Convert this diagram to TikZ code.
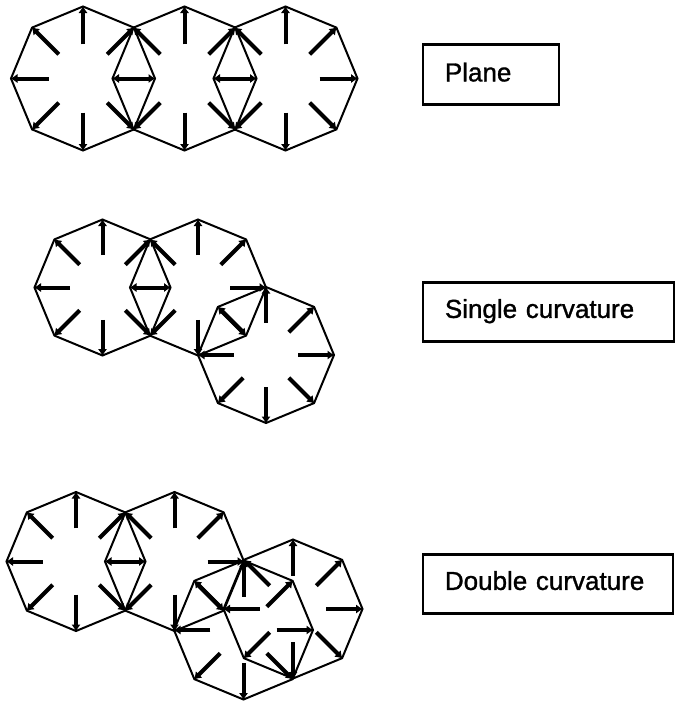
\documentclass[tikz,border=0pt]{standalone}
\usepackage{fontspec}
\setmainfont[FakeBold=1.2]{Liberation Sans}
\usetikzlibrary{arrows.meta}
\tikzset{
  octedge/.style={line width=2pt,line join=miter},
  octarrow/.style={line width=4pt,-{Latex[length=7pt,width=9.5pt]},shorten >=-0.5pt},
  labelbox/.style={draw,line width=2.8pt,anchor=north west,inner ysep=0pt,inner xsep=22pt,
    align=left,font=\fontsize{26}{30}\selectfont,text height=12pt,text depth=0pt}
}
% name, centre x, centre y, radius
\newcommand{\octagonfig}[4]{%
  \coordinate (#1c) at (#2,#3);
  \begin{scope}[shift={(#1c)}]
    \foreach \k in {1,...,8}{
      \coordinate (#1v\k) at ({\k*45}:#4);
      \coordinate (#1i\k) at ({\k*45}:{0.475*#4});
    }
  \end{scope}
  \draw[octedge] (#1v1)--(#1v2)--(#1v3)--(#1v4)--(#1v5)--(#1v6)--(#1v7)--(#1v8)--cycle;
  \foreach \k in {1,...,8}{\draw[octarrow] (#1i\k)--(#1v\k);}
}
\begin{document}
\begin{tikzpicture}[x=1pt,y=-1pt]
\useasboundingbox (0,0) rectangle (677,702);
\fill[white] (0,0) rectangle (677,702);
% Plane
\octagonfig{a}{83}{78.5}{72}
\octagonfig{b}{184.5}{78.5}{72}
\octagonfig{d}{285.5}{78.5}{72}
% Single curvature
\octagonfig{e}{102.5}{287.5}{68}
\octagonfig{f}{198}{287.5}{68}
\octagonfig{g}{266}{355}{68}
% Double curvature
\octagonfig{h}{76}{561.5}{69.5}
\octagonfig{m}{174.5}{561.5}{69.5}
\octagonfig{n}{243.5}{630}{69.5}
\octagonfig{p}{293}{609}{69.5}
% Labels
\node[labelbox,text width=92pt,minimum width=136pt,minimum height=60pt,text height=14pt] (plane) at (421.5,43) {Plane};
\node[labelbox,text width=207pt,inner xsep=21pt,minimum width=251pt,minimum height=59pt] (single) at (421.5,281) {Single curvature};
\node[labelbox,text width=206pt,minimum width=250pt,minimum height=59pt] (double) at (421.5,553) {Double curvature};
\end{tikzpicture}
\end{document}
